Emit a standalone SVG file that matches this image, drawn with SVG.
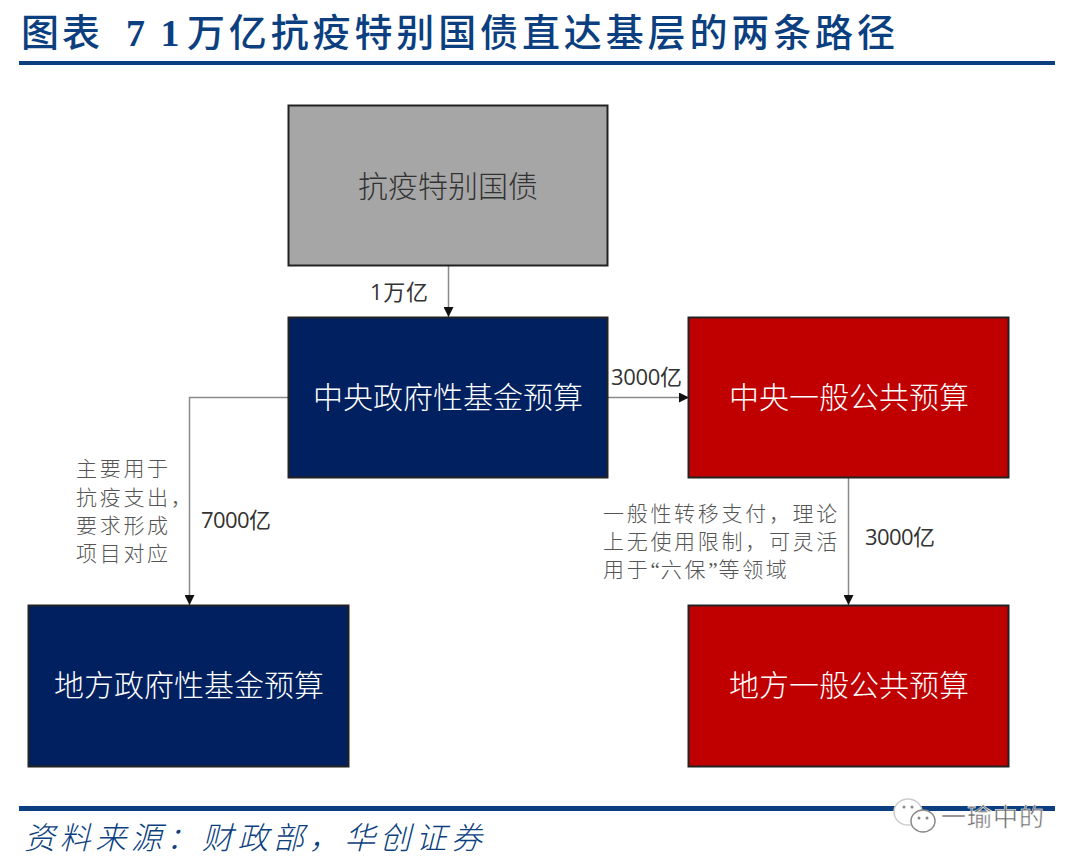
<svg xmlns="http://www.w3.org/2000/svg" width="1080" height="863" viewBox="0 0 1080 863">
<defs>
<marker id="arrow" markerUnits="userSpaceOnUse" markerWidth="11" markerHeight="10" refX="10" refY="5" orient="auto"><path d="M0 0L10 5L0 10Z" fill="#111"/></marker>
</defs>
<style>
.cjk{font-family:"Noto Sans CJK SC","Liberation Sans",sans-serif}
.box{stroke:#222;stroke-width:2}
.big{font-size:30px;text-anchor:middle;font-weight:300}
.note{font-size:21px;fill:#555;font-weight:300;letter-spacing:2.7px}
.num{font-size:22px;fill:#333;font-family:"Open Sans","Noto Sans CJK SC",sans-serif}
.conn{fill:none;stroke:#8a8a8a;stroke-width:1.5;marker-end:url(#arrow)}
.rule{fill:#0b3f80}
.title{font-size:38px;font-weight:500;fill:#0b3f80}
.digits{font-family:"Liberation Serif",serif;font-weight:700}
.q{font-family:"Liberation Serif",serif;letter-spacing:1px}
</style>
<rect width="1080" height="863" fill="#fff"/>
<g id="header">
<text class="cjk title" x="21" y="46" letter-spacing="3">图表</text>
<text class="title digits" x="126" y="46" letter-spacing="3">7 1</text>
<text class="cjk title" x="187" y="46" textLength="708" lengthAdjust="spacing">万亿抗疫特别国债直达基层的两条路径</text>
<rect class="rule" x="19" y="61" width="1036" height="4"/>
</g>
<g id="connectors">
<path class="conn" d="M448.500 266V317"/>
<path class="conn" d="M608 397.500H689"/>
<path class="conn" d="M288 397.500H189.500V605"/>
<path class="conn" d="M848.500 478V605"/>
</g>
<g id="node-bond">
<rect class="box" x="288.500" y="105.500" width="319" height="160" fill="#a6a6a6"/>
<text class="cjk big" x="448" y="197" fill="#333">抗疫特别国债</text>
</g>
<g id="node-central-fund">
<rect class="box" x="288.500" y="317.500" width="319" height="160" fill="#002060"/>
<text class="cjk big" x="448" y="408" fill="#fff">中央政府性基金预算</text>
</g>
<g id="node-central-general">
<rect class="box" x="688.500" y="317.500" width="320" height="160" fill="#c00000"/>
<text class="cjk big" x="849" y="408" fill="#fff">中央一般公共预算</text>
</g>
<g id="node-local-fund">
<rect class="box" x="28.500" y="605.500" width="320" height="161" fill="#002060"/>
<text class="cjk big" x="189" y="696" fill="#fff">地方政府性基金预算</text>
</g>
<g id="node-local-general">
<rect class="box" x="688.500" y="605.500" width="320" height="161" fill="#c00000"/>
<text class="cjk big" x="849" y="696" fill="#fff">地方一般公共预算</text>
</g>
<g id="labels">
<text class="num" x="370" y="300" textLength="58">1万亿</text>
<text class="num" x="611" y="385" textLength="71">3000亿</text>
<text class="num" x="201" y="528" textLength="70">7000亿</text>
<text class="num" x="865" y="545" textLength="70">3000亿</text>
<g class="cjk note">
<text x="76" y="476">主要用于</text>
<text x="76" y="505">抗疫支出，</text>
<text x="76" y="533">要求形成</text>
<text x="76" y="561">项目对应</text>
<text x="603" y="521">一般性转移支付，理论</text>
<text x="603" y="549">上无使用限制，可灵活</text>
<text x="603" y="577">用于<tspan class="q">“</tspan>六保<tspan class="q">”</tspan>等领域</text>
</g>
</g>
<g id="footer">
<rect class="rule" x="19" y="806" width="1036" height="5"/>
<text class="cjk" x="24" y="849" font-size="31" font-weight="300" fill="#0b3f80" font-style="italic" textLength="458">资料来源：财政部，华创证券</text>
</g>
<g id="watermark">
<ellipse cx="908" cy="812" rx="14" ry="13" fill="#fff" stroke="#ccc" stroke-width="1.500"/>
<ellipse cx="923" cy="821" rx="12" ry="11" fill="#fff" stroke="#888" stroke-width="1.500"/>
<circle cx="904" cy="807" r="1.500" fill="#888"/><circle cx="912" cy="807" r="1.500" fill="#888"/>
<circle cx="919" cy="818" r="1.500" fill="#888"/><circle cx="927" cy="818" r="1.500" fill="#888"/>
<text class="cjk" x="941" y="826" font-size="25" fill="#666" stroke="#fff" stroke-width="0.500" textLength="103">一瑜中的</text>
</g>
</svg>
